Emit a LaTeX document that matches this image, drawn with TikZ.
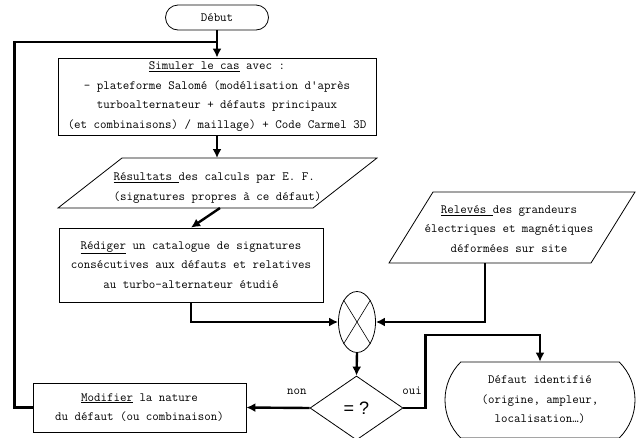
\documentclass[tikz,border=0pt]{standalone}
\usepackage{fontspec}
\setsansfont{Liberation Sans}
\usetikzlibrary{shapes.geometric,shapes.misc,arrows.meta}

\begin{document}
\begin{tikzpicture}%
  [x=1pt,y=-1pt,
   every node/.style={font=\ttfamily\fontsize{12.6}{19.5}\selectfont,inner sep=0},
   flow/.style={line width=2.4pt,-{Latex[length=9pt,width=9pt]}}]
  \tikzstyle{proc node}=[rectangle,draw,line width=0.8pt,align=center]
  \tikzstyle{term node}=[rounded rectangle,draw,line width=0.8pt,align=center]
  \tikzstyle{io line}=[draw,line width=0.8pt]
  \useasboundingbox (0,0) rectangle (640,437);
  % blocs
  \node(debut)[term node,minimum width=103pt,minimum height=25pt] at (217,17.5){Début};
  \node(simul)[proc node,minimum width=318pt,minimum height=77pt] at (217,96.5)
    {\underline{Simuler le cas} avec :\\- plateforme Salomé (modélisation d'après\\
     turboalternateur + défauts principaux\\(et combinaisons) / maillage) + Code Carmel 3D};
  \path[io line] (58,208) -- (122,158) -- (377,158) -- (313,208) -- cycle;
  \node(res)[align=left] at (217.5,188)
    {\underline{Résultats\ }des calculs par E. F.\\(signatures propres à ce défaut)};
  \coordinate(resT) at (217,158);
  \coordinate(resB) at (220,208);
  \node(redig)[proc node,minimum width=264pt,minimum height=74pt] at (191,265)
    {\underline{Rédiger} un catalogue de signatures\\consécutives aux défauts et relatives\\
     au turbo-alternateur étudié};
  \path[io line] (389,263) -- (433,192) -- (635,192) -- (591,263) -- cycle;
  \node(rel)[align=center] at (509,229)
    {\underline{Relevés\ }des grandeurs\\électriques et magnétiques\\déformées sur site};
  \coordinate(relB) at (485,263);
  \node(sum)[ellipse,draw,line width=0.8pt,minimum width=37pt,minimum height=61pt] at (357,322){};
  \draw[line width=0.6pt] (sum.north west) -- (sum.south east) (sum.north east) -- (sum.south west);
  \node(eq)[diamond,draw,line width=0.8pt,minimum width=93pt,minimum height=64pt,
    font=\sffamily\fontsize{18}{18}\selectfont] at (356.5,408){= ?};
  \node(modif)[proc node,minimum width=213pt,minimum height=49pt] at (139.5,407.5)
    {\underline{Modifier} la nature\\du défaut (ou combinaison)};
  \node(defaut)[term node,rounded rectangle arc length=90,minimum width=190pt,minimum height=76pt]
    at (540,400){Défaut identifié\\(origine, ampleur,\\localisation…)};
  % liaisons
  \coordinate(join) at (217,42);
  \draw[line width=2.4pt] (modif.west) -- ++(-18,0) |- (join);
  \draw[flow] (debut.south) -- (simul.north);
  \draw[flow] (simul.south) -- (resT);
  \draw[flow] (resB) -- (redig.north);
  \draw[flow] (redig.south) |- (sum.west);
  \draw[flow] (relB) |- (sum.east);
  \draw[flow] (sum.south) -- (eq.north);
  \draw[flow] (eq.east) -- node[above=12pt,pos=0.4]{oui} ++(22,0) -- ++(0,-73) -| (defaut.north);
  \draw[flow] (eq.west) -- node[above=12pt,pos=0.2]{non} (modif.east);
\end{tikzpicture}
\end{document}
